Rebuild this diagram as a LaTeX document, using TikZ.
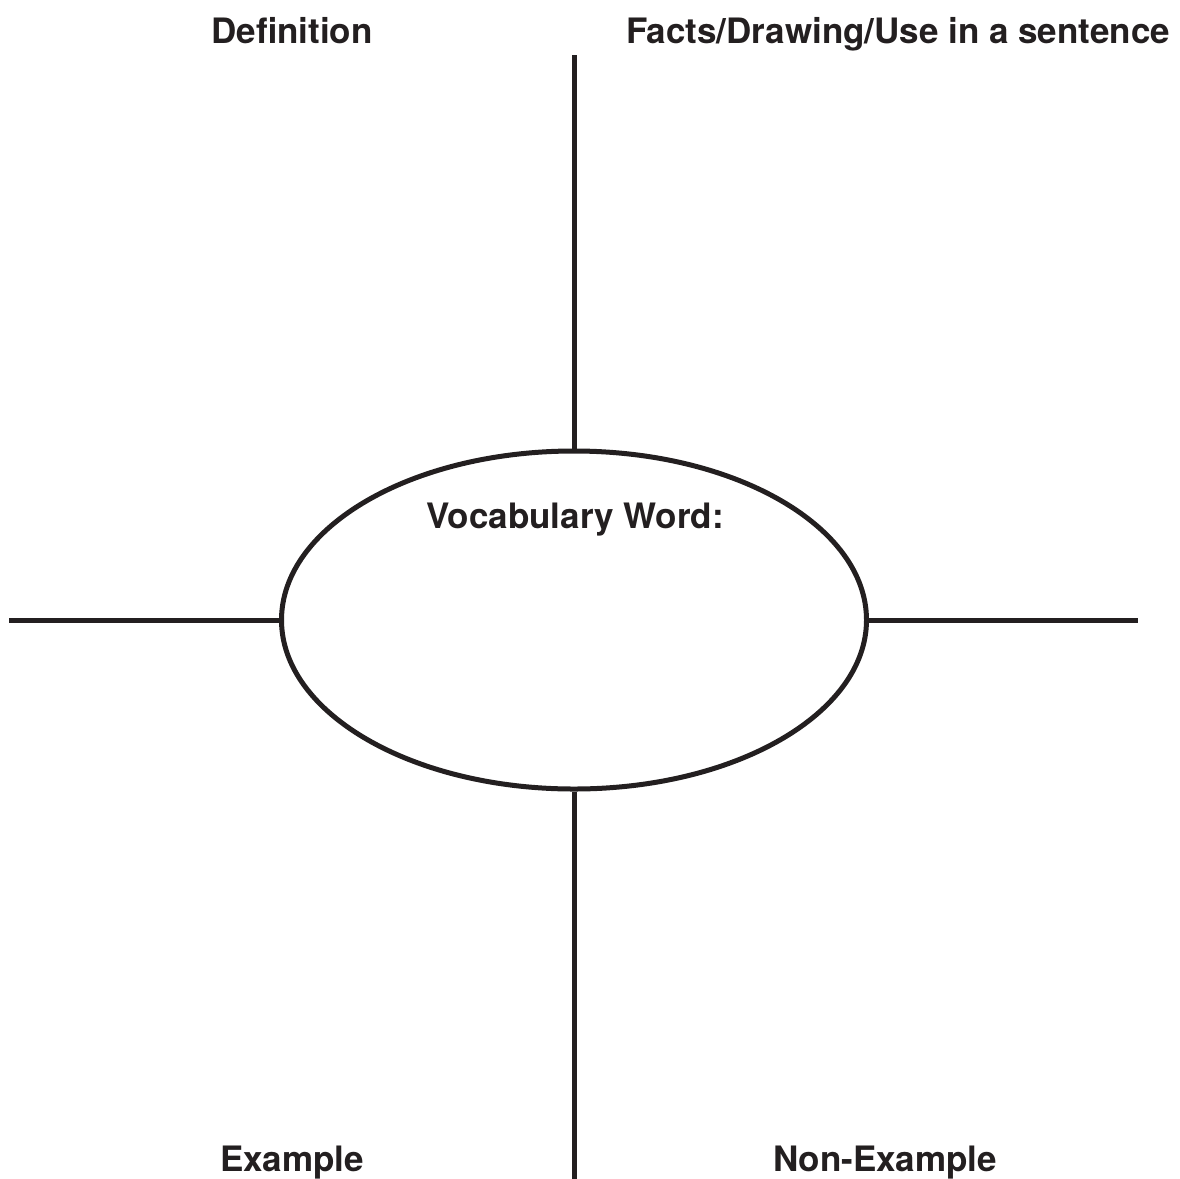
\documentclass[tikz,border=0pt]{standalone}
\usepackage{fontspec}
\setmainfont{TeX Gyre Heros}
\usetikzlibrary{shapes.geometric}
\definecolor{ink}{HTML}{231F20}
\begin{document}
\begin{tikzpicture}[x=1bp,y=-1bp,
  line/.style={draw=ink,line width=5bp},
  lbl/.style={text=ink,font=\fontsize{35bp}{40bp}\selectfont\bfseries,anchor=base,inner sep=0pt}]
\useasboundingbox (0,0) rectangle (1180,1179);
\node[line,ellipse,minimum width=585bp,minimum height=338bp,inner sep=0pt] (oval) at (574,620) {};
\coordinate (top) at (574,55);
\coordinate (bot) at (574,1181);
\coordinate (left) at (9,620);
\coordinate (right) at (1138,620);
\draw[line] (oval.north) -- (top);
\draw[line] (oval.south) -- (bot);
\draw[line] (oval.west) -- (left);
\draw[line] (oval.east) -- (right);
\node[lbl] (def) at (292,43) {Definition};
\node[lbl] (facts) at (898,43) {Facts/Drawing/Use in a sentence};
\node[lbl] (voc) at (575,528) {Vocabulary Word:};
\node[lbl] (ex) at (292,1171) {Example};
\node[lbl] (nonex) at (885,1171) {Non-Example};
\end{tikzpicture}
\end{document}
